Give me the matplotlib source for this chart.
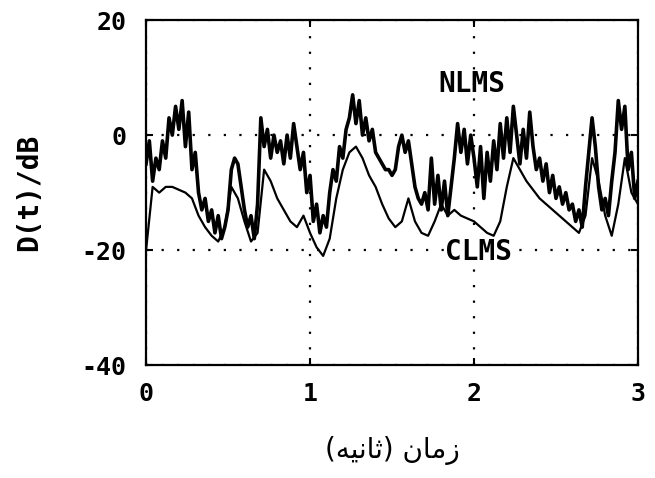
import numpy as np
import matplotlib
matplotlib.use('Agg')
import matplotlib.pyplot as plt

# NLMS, sampled every 0.02 s (dB)
nlms_db = [-5, -1, -8, -4, -6, -1, -4, 3, 0, 5,
           1, 6, -2, 4, -6, -3, -10, -13, -11, -15,
           -13, -17, -14, -18, -16, -13, -6, -4, -5, -9,
           -13, -16, -14, -18, -12, 3, -2, 1, -4, 0,
           -3, -1, -5, 0, -4, 2, -2, -6, -3, -10,
           -7, -15, -12, -17, -14, -16, -10, -6, -8, -2,
           -4, 1, 3, 7, 2, 6, 0, 3, -1, 1,
           -3, -4, -5, -6, -6, -7, -6, -2, 0, -3,
           -1, -5, -9, -11, -12, -10, -13, -4, -12, -7,
           -13, -8, -14, -9, -4, 2, -3, 1, -5, 0,
           -4, -9, -2, -11, -3, -8, -1, -6, 2, -4,
           3, -3, 5, 0, -5, 1, -4, 4, -2, -6,
           -4, -8, -5, -10, -7, -11, -9, -12, -10, -13,
           -12, -15, -13, -16, -9, -3, 3, -2, -9, -13,
           -11, -14, -8, -3, 6, 1, 5, -6, -3, -11,
           -8]

# CLMS, sampled every 0.04 s (dB)
clms_db = [-20, -9, -10, -9, -9, -9.5, -10, -11, -14, -16,
           -17.5, -18.5, -16, -9, -11, -15, -18.5, -17, -6, -8,
           -11, -13, -15, -16, -14, -17, -19.5, -21, -18, -11,
           -6, -3, -2, -4, -7, -9, -12, -14.5, -16, -15,
           -11, -15, -17, -17.5, -15, -12, -14, -13, -14, -14.5,
           -15, -16, -17, -17.5, -15, -9, -4, -6, -8, -9.5,
           -11, -12, -13, -14, -15, -16, -17, -14, -4, -8,
           -14, -17.5, -12, -4, -10, -12]

t_nlms = np.linspace(0, 3, len(nlms_db))
t_clms = np.linspace(0, 3, len(clms_db))

x_ticks = [0, 1, 2, 3]
y_ticks = [-40, -20, 0, 20]
tick_font = 'DejaVu Sans Mono'

# Persian label "زمان (ثانیه)" written in visual order with shaped forms
xlabel = '(\ufeea\ufbff\ufee7\ufe8e\ufe9b) \ufee5\ufe8e\ufee3\ufeaf'

fig = plt.figure(figsize=(6.55, 4.78), dpi=100)
ax = fig.add_axes([0.223, 0.236, 0.751, 0.722])

ax.plot(t_clms, clms_db, color='black', lw=1.6, zorder=3)
ax.plot(t_nlms, nlms_db, color='black', lw=2.6, zorder=3)

ax.set_xlim(0, 3)
ax.set_ylim(-40, 20)
ax.set_xticks(x_ticks)
ax.set_yticks(y_ticks)
ax.set_xticklabels([str(v) for v in x_ticks], fontfamily=tick_font,
                   fontweight='bold', fontsize=18)
ax.set_yticklabels([str(v) for v in y_ticks], fontfamily=tick_font,
                   fontweight='bold', fontsize=18)
ax.tick_params(axis='x', direction='in', length=5, width=1.5, pad=12,
               top=True)
ax.tick_params(axis='y', direction='in', length=5, width=1.5, pad=14,
               right=True)
for sp in ax.spines.values():
    sp.set_linewidth(1.6)

ax.grid(True, color='black', linestyle=(0, (1, 6)), lw=1.6)

ax.text(1.99, 8.8, 'NLMS', fontfamily=tick_font, fontweight='bold',
        fontsize=20, ha='center', va='center', zorder=4)
ax.text(2.03, -20.3, 'CLMS', fontfamily=tick_font, fontweight='bold',
        fontsize=20, ha='center', va='center', zorder=4,
        bbox=dict(facecolor='white', edgecolor='none', pad=0.5))

ax.set_ylabel('D(t)/dB', fontfamily=tick_font, fontweight='bold',
              fontsize=20, labelpad=28)
ax.set_xlabel(xlabel, fontfamily='DejaVu Sans', fontsize=20, labelpad=22)

fig.savefig('out.png', dpi=100)
